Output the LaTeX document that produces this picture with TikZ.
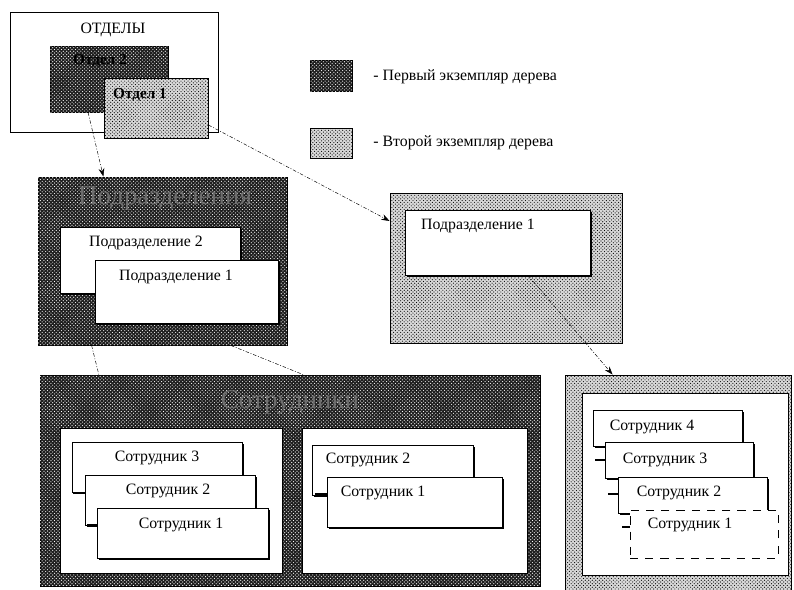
\documentclass[tikz,border=0pt]{standalone}
\usepackage{fontspec}
\setmainfont{Liberation Serif}
\usetikzlibrary{patterns,shadows,arrows.meta}
\definecolor{TreeDark}{HTML}{1E1E1E}
\definecolor{TreeLight}{HTML}{D8D8D8}
\definecolor{TitleGrey}{HTML}{6E6E6E}
\tikzset{
  box size/.style 2 args={minimum width=#1*0.03cm,minimum height=#2*0.03cm,inner sep=0pt},
  dark tree/.style={draw=black,thick,fill=TreeDark,
    postaction={pattern=crosshatch dots,pattern color=white}},
  light tree/.style={draw=black,thick,fill=TreeLight,
    postaction={pattern=crosshatch dots,pattern color=black}},
  plain frame/.style={draw=black,thick,fill=white},
  card/.style={draw=black,fill=white,
    drop shadow={shadow xshift=1.3pt,shadow yshift=-1.3pt,opacity=1,fill=black}},
  dashed card/.style={draw=black,thick,dash pattern=on 7pt off 6pt,fill=white},
  card text/.style={font=\fontsize{13.5}{15}\selectfont,inner sep=1pt},
  big title/.style={font=\fontsize{23}{25}\selectfont,text=TitleGrey,inner sep=1pt},
  link/.style={thin,dash pattern=on 3pt off 1.5pt on 0.8pt off 1.5pt},
  link arrow/.style={link,-{Stealth[length=7pt,width=5pt]}},
  tab/.style={line width=2.2pt}
}
\begin{document}
\begin{tikzpicture}[x=0.03cm,y=-0.03cm]
  \useasboundingbox[fill=white] (0,0) rectangle (794,589);
  % first tree: departments
  \node[plain frame,box size={208}{120}] (otdely) at (114,72) {};
  \node[card text] (otdelyTitle) at (113,30) {ОТДЕЛЫ};
  \node[dark tree,box size={118}{66}] (otd2) at (109,79) {};
  \node[card text,font=\fontsize{13}{15}\selectfont\bfseries] (otd2Text) at (100,61) {Отдел 2};
  \node[light tree,box size={104}{60}] (otd1) at (156,108) {};
  \node[card text,font=\fontsize{13}{15}\selectfont\bfseries] (otd1Text) at (140,95) {Отдел 1};
  % legend
  \node[dark tree,box size={42}{31}] (keyDark) at (331,76) {};
  \node[card text,anchor=west] (keyDarkText) at (372,77) {- Первый экземпляр дерева};
  \node[light tree,box size={42}{30}] (keyLight) at (331,143) {};
  \node[card text,anchor=west] (keyLightText) at (372,143) {- Второй экземпляр дерева};
  % subdivisions, first tree
  \node[dark tree,box size={249}{168}] (podr) at (162.5,261) {};
  \node[big title] (podrTitle) at (165,199) {Подразделения};
  \node[card,box size={180}{66}] (podr2) at (150,260) {};
  \node[card text] (podr2Text) at (146,243) {Подразделение 2};
  \node[card,box size={183}{63}] (podr1) at (186.5,291.5) {};
  \node[card text] (podr1Text) at (176,277) {Подразделение 1};
  % subdivisions, second tree
  \node[light tree,box size={232}{150}] (podrR) at (506,268) {};
  \node[card,box size={185}{65}] (podrR1) at (497.5,242.5) {};
  \node[card text] (podrR1Text) at (478,226) {Подразделение 1};
  % staff, first tree
  \node[dark tree,box size={500}{211}] (sotr) at (290,480.5) {};
  \node[big title] (sotrTitle) at (290,402) {Сотрудники};
  \node[plain frame,box size={222}{145}] (sotrA) at (171,500.5) {};
  \node[plain frame,box size={225}{145}] (sotrB) at (414.5,500.5) {};
  \node[card,box size={170}{50}] (a3) at (157,467) {};
  \node[card text] (a3Text) at (157,458) {Сотрудник 3};
  \node[card,box size={170}{50}] (a2) at (170,500) {};
  \node[card text] (a2Text) at (168,491) {Сотрудник 2};
  \node[card,box size={171}{50}] (a1) at (182.5,533) {};
  \node[card text] (a1Text) at (181,525) {Сотрудник 1};
  \draw[tab] (73,493) -- (85,493);
  \draw[tab] (87,525) -- (97,525);
  \node[card,box size={161}{50}] (b2) at (392.5,470) {};
  \node[card text] (b2Text) at (368,460) {Сотрудник 2};
  \node[card,box size={175}{50}] (b1) at (414.5,502) {};
  \node[card text] (b1Text) at (383,493) {Сотрудник 1};
  \draw[tab] (315,494) -- (327,494);
  % staff, second tree
  \node[light tree,box size={226}{217}] (sotrR) at (678,483.5) {};
  \node[plain frame,box size={206}{182}] (sotrRIn) at (685,484) {};
  \node[card,box size={149}{36}] (c4) at (667.5,428) {};
  \node[card text] (c4Text) at (652,427) {Сотрудник 4};
  \node[card,box size={148}{36}] (c3) at (679,460) {};
  \node[card text] (c3Text) at (665,460) {Сотрудник 3};
  \node[card,box size={149}{36}] (c2) at (692.5,495) {};
  \node[card text] (c2Text) at (679,493) {Сотрудник 2};
  \node[dashed card,box size={148}{48}] (c1) at (704,534) {};
  \node[card text] (c1Text) at (690,525) {Сотрудник 1};
  \draw[tab] (595,460) -- (605,460);
  \draw[tab] (608,494) -- (618,494);
  \draw[tab] (622,527) -- (630,527);
  % links between the trees
  \draw[link arrow] (otd2.-122) -- (podr.125.3);
  \draw[link arrow] (otd1.-18) -- (podrR.158.4);
  \draw[link] (podr.-130) -- (sotr.151.2);
  \draw[link] (podr.-51.2) -- (sotr.83);
  \draw[link arrow] (podrR1.-47.8) -- (sotrR.121.3);
\end{tikzpicture}
\end{document}
